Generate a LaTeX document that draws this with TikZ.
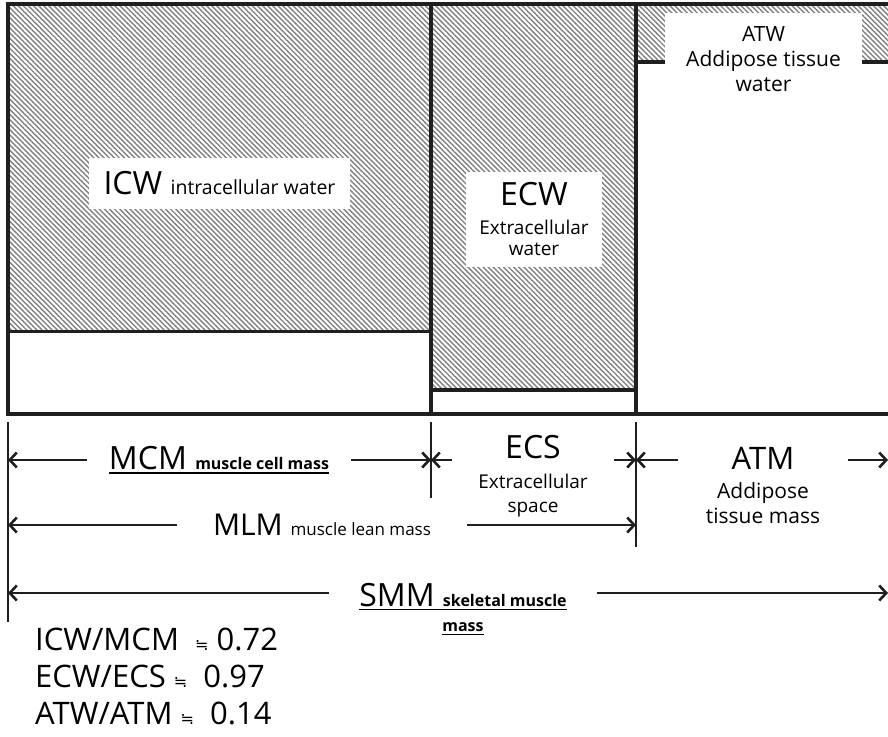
\documentclass[tikz,border=0pt]{standalone}
\usepackage{fontspec}
\setmainfont{Open Sans}
\newfontfamily\eqfont{DejaVu Sans}
\usetikzlibrary{arrows.meta,patterns.meta}
% font size / line skip in px (1pt = 1px here)
\newcommand\fs[2]{\fontsize{#1}{#2}\selectfont}
% underline with a thicker bar
\newcommand\ulbar[1]{\setbox0=\hbox{#1}\rlap{\rule[-4pt]{\wd0}{1.6pt}}\box0}

\begin{document}
\begin{tikzpicture}[x=1pt, y=-1pt,
  hatch/.style={pattern={Lines[angle=-45,distance=3.6pt,line width=1.4pt]}, pattern color=black!50},
  wall/.style={line width=4pt, black!88},
  tick/.style={line width=2.6pt, black!88},
  dim/.style={line width=2.6pt, black!88, -{Straight Barb[length=7pt,width=15pt]}},
  box/.style={fill=white, inner sep=0pt, align=center},
  lbl/.style={inner ysep=0pt, align=center}]
  \useasboundingbox (0,0) rectangle (888,736);

  % compartments (hatched = water)
  \path[hatch] (8,4) rectangle (431,331);
  \path[hatch] (431,4) rectangle (636,390);
  \path[hatch] (636,4) rectangle (888,62);
  \draw[wall] (8,414) -- (8,4) -- (888,4);
  \draw[wall] (431,4) -- (431,414);
  \draw[wall] (636,4) -- (636,414);
  \draw[wall] (6,414) -- (888,414);
  \draw[line width=3pt, black!88] (8,331) -- (431,331);
  \draw[line width=3.5pt, black!88] (431,390) -- (636,390);
  \draw[wall] (636,62) -- (888,62);

  % labels inside the compartments
  \node[box, minimum width=261pt, minimum height=51pt] (icw) at (219.5,183.5)
    {\fs{32}{32}ICW\ \fs{19.5}{19.5}intracellular water};
  \node[box, minimum width=136pt, minimum height=95pt, font=\fs{19}{21}] (ecw) at (534,219.5)
    {{\fs{32}{32}ECW}\\[8pt]Extracellular\\water};
  \node[box, minimum width=197pt, minimum height=92pt, font=\fs{21}{25}] (atw) at (763.5,59)
    {ATW\\Addipose tissue\\water};

  % dimension ticks
  \coordinate (t0) at (8,422);   \coordinate (b0) at (8,622);
  \coordinate (t1) at (431,422); \coordinate (b1) at (431,498);
  \coordinate (t2) at (636,422); \coordinate (b2) at (636,547);
  \draw[tick] (t0) -- (b0);
  \draw[tick] (t1) -- (b1);
  \draw[tick] (t2) -- (b2);

  % row 1: MCM, ECS, ATM
  \coordinate (r1a) at (8,460);   \coordinate (r1b) at (431,460);
  \coordinate (r1c) at (636,460); \coordinate (r1d) at (888,460);
  \node[lbl, inner xsep=22pt] (mcm) at (219,460)
    {\ulbar{\fs{32}{32}MCM \fs{16}{16}\bfseries muscle cell mass}};
  \node[lbl, inner xsep=26pt, anchor=north, font=\fs{19}{24}] (ecs) at (533,435)
    {{\fs{32}{32}ECS}\\[6pt]Extracellular\\space};
  \node[lbl, inner xsep=28pt, anchor=north, font=\fs{21}{25}] (atm) at (763,447)
    {{\fs{31}{31}ATM}\\[4pt]Addipose\\tissue mass};
  \draw[dim] (mcm.west |- r1a) -- (r1a);
  \draw[dim] (mcm.east |- r1b) -- (r1b);
  \draw[dim] (ecs.west |- r1b) -- (r1b);
  \draw[dim] (ecs.east |- r1c) -- (r1c);
  \draw[dim] (atm.west |- r1c) -- (r1c);
  \draw[dim] (atm.east |- r1d) -- (r1d);

  % row 2: MLM
  \coordinate (r2a) at (8,525); \coordinate (r2b) at (636,525);
  \node[lbl, inner xsep=36pt] (mlm) at (322,525)
    {\fs{30}{30}MLM \fs{17}{17}muscle lean mass};
  \draw[dim] (mlm.west |- r2a) -- (r2a);
  \draw[dim] (mlm.east |- r2b) -- (r2b);

  % row 3: SMM
  \coordinate (r3a) at (8,593); \coordinate (r3b) at (888,593);
  \node[lbl, inner xsep=30pt, anchor=north, font=\fs{16}{25}\bfseries] (smm) at (463,583)
    {\ulbar{\fs{32}{32}\mdseries SMM \fs{16}{16}\bfseries skeletal muscle}\\\ulbar{mass}};
  \draw[dim] (smm.west |- r3a) -- (r3a);
  \draw[dim] (smm.east |- r3b) -- (r3b);

  % ratios
  \node[anchor=north west, inner sep=0pt, align=left, font=\fs{31}{37}] (ratio) at (35,628)
    {ICW/MCM \ {\eqfont\fs{16}{16}≒} 0.72\\ECW/ECS {\eqfont\fs{16}{16}≒} \ 0.97\\ATW/ATM {\eqfont\fs{16}{16}≒} \ 0.14};
\end{tikzpicture}
\end{document}
